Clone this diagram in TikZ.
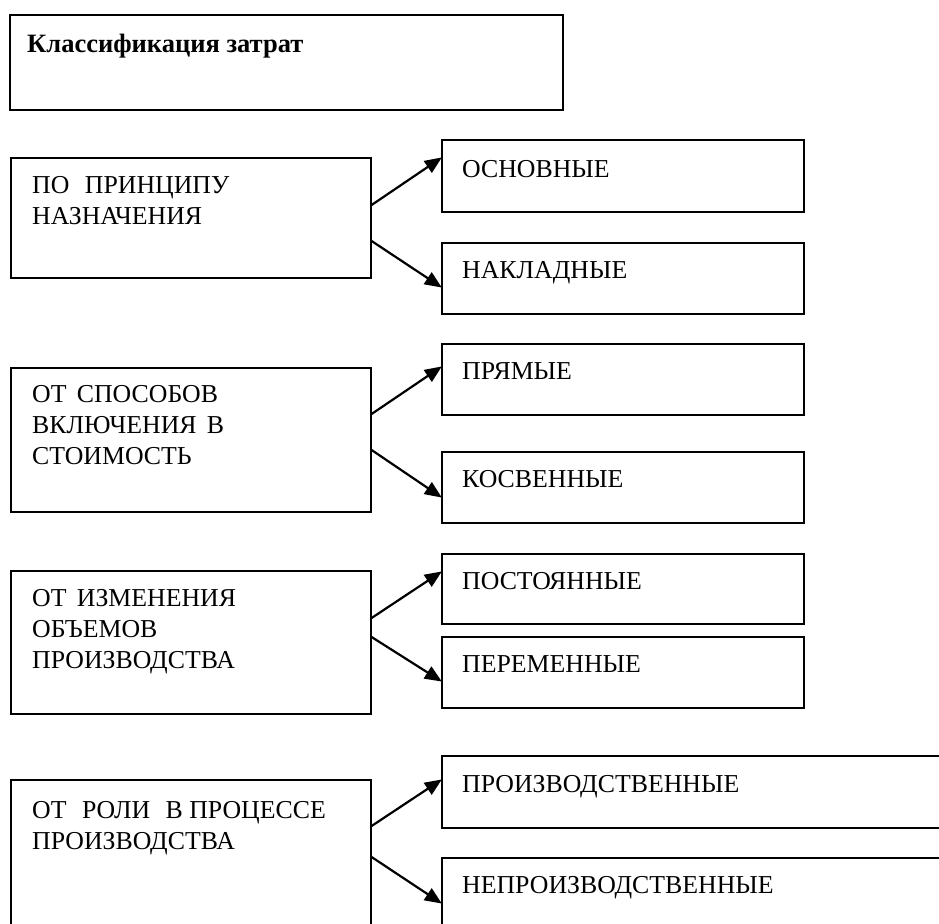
\documentclass[tikz,border=0pt]{standalone}
\usepackage{fontspec}
\setmainfont{Liberation Serif}
\usetikzlibrary{arrows.meta}
\begin{document}
\begin{tikzpicture}[x=1pt,y=-1pt,
  box/.style={draw, line width=1.6pt, rectangle, inner sep=0pt, anchor=north west},
  txt/.style={inner sep=0pt, anchor=base west, align=left,
    font=\fontsize{25.8}{31}\selectfont},
  arr/.style={line width=2.2pt, -{Triangle[length=17pt,width=14pt]}, shorten >=-1pt}]
\useasboundingbox (0,0) rectangle (939,923);
\fill[white] (0,0) rectangle (939,923);
\begin{scope}
\clip (0,0) rectangle (939,923);

% heading
\node[box, line width=2.2pt, minimum width=553pt, minimum height=95pt] (head) at (9,14) {};
\node[txt, font=\fontsize{26.5}{31}\selectfont\bfseries] (headt) at (27,53) {Классификация затрат};

% criteria (left column)
\node[box, minimum width=360pt, minimum height=120pt] (b1) at (10,157) {};
\node[box, minimum width=360pt, minimum height=144pt] (b2) at (10,367) {};
\node[box, minimum width=360pt, minimum height=143pt] (b3) at (10,570) {};
\node[box, minimum width=360pt, minimum height=170pt] (b4) at (10,779) {};

% cost types (right column)
\node[box, minimum width=362pt, minimum height=72pt] (c1) at (441,139) {};
\node[box, minimum width=362pt, minimum height=71pt] (c2) at (441,242) {};
\node[box, minimum width=362pt, minimum height=71pt] (c3) at (441,343) {};
\node[box, minimum width=362pt, minimum height=71pt] (c4) at (441,451) {};
\node[box, minimum width=362pt, minimum height=70pt] (c5) at (441,553) {};
\node[box, minimum width=362pt, minimum height=71pt] (c6) at (441,636) {};
\node[box, minimum width=530pt, minimum height=72pt] (c7) at (441,755) {};
\node[box, minimum width=530pt, minimum height=100pt] (c8) at (441,857) {};

% labels of the criteria
\node[txt, anchor=north west] (t1) at ([xshift=22pt,yshift=-19pt]b1.north west) {ПО\hspace{0.6em}ПРИНЦИПУ\\НАЗНАЧЕНИЯ};
\node[txt, anchor=north west] (t2) at ([xshift=22pt,yshift=-18pt]b2.north west) {ОТ\hspace{0.4em}СПОСОБОВ\\ВКЛЮЧЕНИЯ\hspace{0.4em}В\\СТОИМОСТЬ};
\node[txt, anchor=north west] (t3) at ([xshift=22pt,yshift=-19pt]b3.north west) {ОТ\hspace{0.4em}ИЗМЕНЕНИЯ\\ОБЪЕМОВ\\ПРОИЗВОДСТВА};
\node[txt, anchor=north west] (t4) at ([xshift=22pt,yshift=-22pt]b4.north west) {ОТ\hspace{0.6em}РОЛИ\hspace{0.6em}В ПРОЦЕССЕ\\ПРОИЗВОДСТВА};

% labels of the cost types
\node[txt] (u1) at ([xshift=21pt,yshift=-38pt]c1.north west) {ОСНОВНЫЕ};
\node[txt] (u2) at ([xshift=21pt,yshift=-36pt]c2.north west) {НАКЛАДНЫЕ};
\node[txt] (u3) at ([xshift=21pt,yshift=-36pt]c3.north west) {ПРЯМЫЕ};
\node[txt] (u4) at ([xshift=21pt,yshift=-36pt]c4.north west) {КОСВЕННЫЕ};
\node[txt] (u5) at ([xshift=21pt,yshift=-36pt]c5.north west) {ПОСТОЯННЫЕ};
\node[txt] (u6) at ([xshift=21pt,yshift=-36pt]c6.north west) {ПЕРЕМЕННЫЕ};
\node[txt] (u7) at ([xshift=21pt,yshift=-37pt]c7.north west) {ПРОИЗВОДСТВЕННЫЕ};
\node[txt] (u8) at ([xshift=21pt,yshift=-36pt]c8.north west) {НЕПРОИЗВОДСТВЕННЫЕ};

% branching arrows
\draw[arr] ([yshift=-48pt]b1.north east) -- ([yshift=-19pt]c1.north west);
\draw[arr] ([yshift=-84pt]b1.north east) -- ([yshift=-45pt]c2.north west);
\draw[arr] ([yshift=-47pt]b2.north east) -- ([yshift=-24pt]c3.north west);
\draw[arr] ([yshift=-83pt]b2.north east) -- ([yshift=-46pt]c4.north west);
\draw[arr] ([yshift=-48pt]b3.north east) -- ([yshift=-19pt]c5.north west);
\draw[arr] ([yshift=-67pt]b3.north east) -- ([yshift=-45pt]c6.north west);
\draw[arr] ([yshift=-47pt]b4.north east) -- ([yshift=-25pt]c7.north west);
\draw[arr] ([yshift=-78pt]b4.north east) -- ([yshift=-46pt]c8.north west);
\end{scope}
\end{tikzpicture}
\end{document}
